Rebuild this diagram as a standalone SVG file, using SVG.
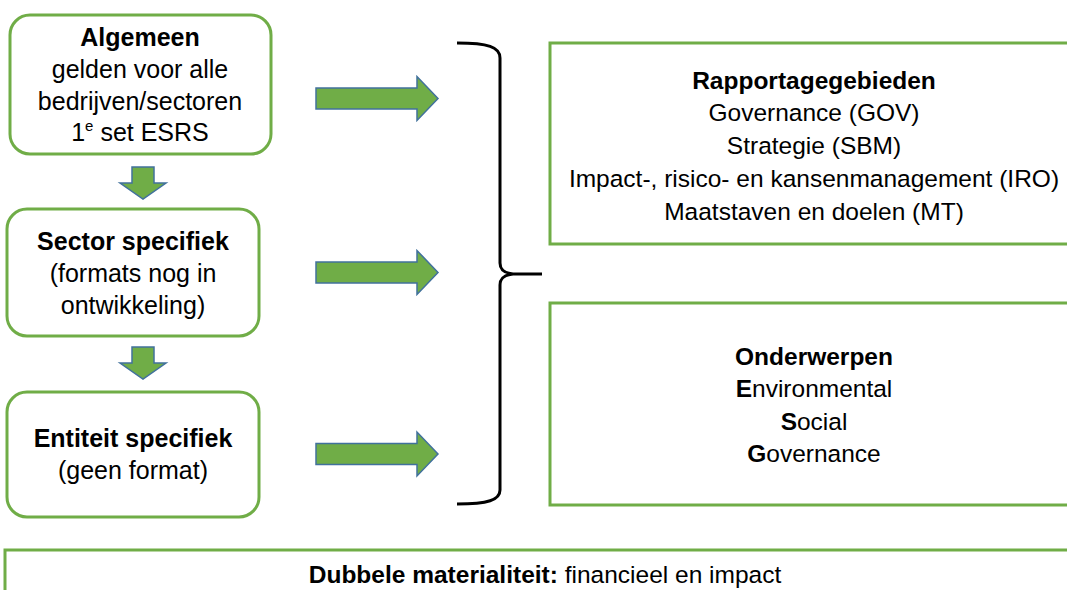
<svg xmlns="http://www.w3.org/2000/svg" xmlns:xlink="http://www.w3.org/1999/xlink" width="1067" height="590" viewBox="0 0 1067 590">
<style>
.box{fill:#fff;stroke:#70AD47;stroke-width:3}
.arr{fill:#70AD47;stroke:#41719C;stroke-width:1.5;stroke-linejoin:miter}
.t{font-family:"Liberation Sans",Arial,sans-serif;fill:#000;text-anchor:middle}
.l{font-size:25px}
.r{font-size:24.5px}
.b{font-weight:bold}
.brace{fill:none;stroke:#000;stroke-width:3}
</style>
<defs>
<path id="ra" d="M0,-10.5 H101 V-22 L122,0 L101,22 V10.5 H0 Z"/>
<path id="da" d="M-11,0 H11 V16 H23 L0,32 L-23,16 H-11 Z"/>
</defs>
<rect width="1067" height="590" fill="#fff"/>
<g id="node-algemeen">
<rect class="box" x="10" y="15" width="261" height="139" rx="20"/>
<text class="t l b" x="140" y="46">Algemeen</text>
<text class="t l" x="140" y="78">gelden voor alle</text>
<text class="t l" x="140" y="110">bedrijven/sectoren</text>
<text class="t l" x="140" y="141">1<tspan font-size="15" dy="-10">e</tspan><tspan dy="10"> set ESRS</tspan></text>
</g>
<g id="node-sector">
<rect class="box" x="7" y="209" width="252" height="127" rx="20"/>
<text class="t l b" x="133" y="250">Sector specifiek</text>
<text class="t l" x="133" y="282">(formats nog in</text>
<text class="t l" x="133" y="314">ontwikkeling)</text>
</g>
<g id="node-entiteit">
<rect class="box" x="7" y="392" width="252" height="125" rx="20"/>
<text class="t l b" x="133" y="447">Entiteit specifiek</text>
<text class="t l" x="133" y="479">(geen format)</text>
</g>
<g id="node-rapportage">
<rect class="box" x="550" y="43" width="540" height="201"/>
<text class="t r b" x="814" y="89">Rapportagegebieden</text>
<text class="t r" x="814" y="121">Governance (GOV)</text>
<text class="t r" x="814" y="154">Strategie (SBM)</text>
<text class="t r" x="814" y="187">Impact-, risico- en kansenmanagement (IRO)</text>
<text class="t r" x="814" y="220">Maatstaven en doelen (MT)</text>
</g>
<g id="node-onderwerpen">
<rect class="box" x="550" y="303" width="540" height="202"/>
<text class="t r b" x="814" y="365">Onderwerpen</text>
<text class="t r" x="814" y="397"><tspan font-weight="bold">E</tspan>nvironmental</text>
<text class="t r" x="814" y="430"><tspan font-weight="bold">S</tspan>ocial</text>
<text class="t r" x="814" y="462"><tspan font-weight="bold">G</tspan>overnance</text>
</g>
<g id="node-materialiteit">
<rect class="box" x="5" y="550" width="1090" height="60"/>
<text class="t" x="545" y="583" font-size="24.5"><tspan font-weight="bold">Dubbele materialiteit:</tspan> financieel en impact</text>
</g>
<g id="connectors">
<use href="#da" xlink:href="#da" class="arr" x="143" y="167"/>
<use href="#da" xlink:href="#da" class="arr" x="143" y="347"/>
<use href="#ra" xlink:href="#ra" class="arr" x="316" y="98.5"/>
<use href="#ra" xlink:href="#ra" class="arr" x="316" y="272.5"/>
<use href="#ra" xlink:href="#ra" class="arr" x="316" y="454"/>
<path class="brace" d="M457,43 C488,43 500,47 500,58 L500,263 C500,270 504,273 513,274 L542,274 M513,274 C504,275 500,278 500,285 L500,490 C500,500 488,504 457,504"/>
</g>
</svg>
